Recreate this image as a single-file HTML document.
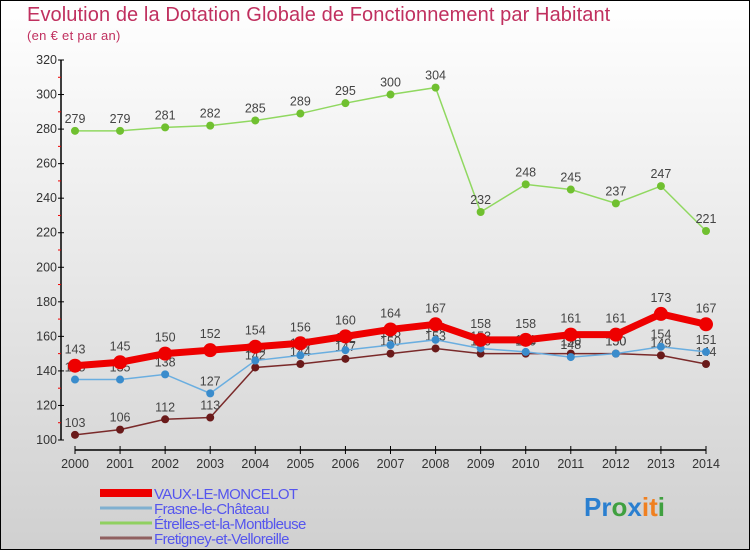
<!DOCTYPE html>
<html><head><meta charset="utf-8"><style>
html,body{margin:0;padding:0}
body{width:750px;height:550px;overflow:hidden;font-family:"Liberation Sans",sans-serif}
#wrap{position:relative;width:748px;height:548px;border:1px solid #000;background:linear-gradient(#ffffff,#d0d0d0)}
.t{position:absolute;color:#c0305f}
</style></head><body>
<div id="wrap">
<div class="t" style="left:26px;top:3px;font-size:20px;letter-spacing:0.1px">Evolution de la Dotation Globale de Fonctionnement par Habitant</div>
<div class="t" style="left:26px;top:27px;font-size:13px;letter-spacing:0.3px">(en € et par an)</div>
<svg id="chart" width="750" height="550" style="position:absolute;left:-1px;top:-1px"></svg>
</div>
<script>
const years=[2000,2001,2002,2003,2004,2005,2006,2007,2008,2009,2010,2011,2012,2013,2014];
const yTicks=[100,120,140,160,180,200,220,240,260,280,300,320];
const vaux=[143,145,150,152,154,156,160,164,167,158,158,161,161,173,167];
const frasne=[135,135,138,127,146,149,152,155,158,153,151,148,150,154,151];
const etrelles=[279,279,281,282,285,289,295,300,304,232,248,245,237,247,221];
const fretigney=[103,106,112,113,142,144,147,150,153,150,150,150,150,149,144];
const seriesNames=["VAUX-LE-MONCELOT","Frasne-le-Château","Étrelles-et-la-Montbleuse","Fretigney-et-Velloreille"];
const NS="http://www.w3.org/2000/svg";
const svg=document.getElementById('chart');
const X=i=>75+i*(706-75)/(years.length-1);
const Y=v=>440-(v-100)*(380/220);
function mk(t,a,p){const e=document.createElementNS(NS,t);for(const k in a)e.setAttribute(k,a[k]);(p||svg).appendChild(e);return e;}
let ax=mk('line',{x1:61,y1:60,x2:61,y2:440,stroke:'#000','stroke-width':1.5});


yTicks.forEach((v,i)=>{
  mk('line',{x1:58,y1:Y(v),x2:64,y2:Y(v),stroke:'#000'});
  if(i<yTicks.length-1)mk('line',{x1:58,y1:Y(v+10),x2:61,y2:Y(v+10),stroke:'#e00'});
  const t=mk('text',{x:57,y:Y(v)+4,'text-anchor':'end','font-size':12.5,fill:'#333'});t.textContent=v;
  
  
});
let xa=mk('line',{x1:X(0),y1:450,x2:X(14),y2:450,stroke:'#000','stroke-width':1.5});


years.forEach((yr,i)=>{
  mk('line',{x1:X(i),y1:446,x2:X(i),y2:454,stroke:'#000'});
  const t=mk('text',{x:X(i),y:468,'text-anchor':'middle','font-size':12.5,fill:'#333'});t.textContent=yr;
  
  
});
function series(data,color,dot,w,r,name,labelDy){
  const g=mk('g',{});
  
  
  mk('polyline',{points:data.map((v,i)=>X(i)+','+Y(v)).join(' '),fill:'none',stroke:color,'stroke-width':w},g);
  data.forEach((v,i)=>{
    const c=mk('circle',{cx:X(i),cy:Y(v),r:r,fill:dot},g);
    
    
    const t=mk('text',{x:X(i),y:Y(v)+labelDy,'text-anchor':'middle','font-size':12.5,fill:'#444'},g);t.textContent=v;
  });
}
series(fretigney,'#7a2a2a','#6a1a1a',1.5,4,'series-fretigney',-8);
series(etrelles,'#90d860','#70c030',1.5,4,'series-etrelles',-8);
series(frasne,'#6aaee0','#3a8ccc',1.5,4,'series-frasne',-8);
series(vaux,'#ee0000','#ee0000',7,7,'series-vaux',-12);
const legColors=['#ee0000','#80b0d0','#90d060','#906060'];
const legW=[8,3,3,3];
seriesNames.forEach((n,i)=>{
  const y=493+i*15;
  const l=mk('line',{x1:100,y1:y,x2:152,y2:y,stroke:legColors[i],'stroke-width':legW[i]});
  
  
  const t=mk('text',{x:154,y:y+6,'font-size':15,fill:'#5555ee','letter-spacing':'-0.6'});t.textContent=n;
  
  
});
const logo=mk('text',{x:584,y:516,'font-size':26,'font-weight':'bold'});


[['P','#2a7fd0'],['r','#2a7fd0'],['o','#40a040'],['x','#2a7fd0'],['i','#f08020'],['t','#f08020'],['i','#40a040']].forEach(([c,f])=>{const s=mk('tspan',{fill:f},logo);s.textContent=c;});
</script>
</body></html>
